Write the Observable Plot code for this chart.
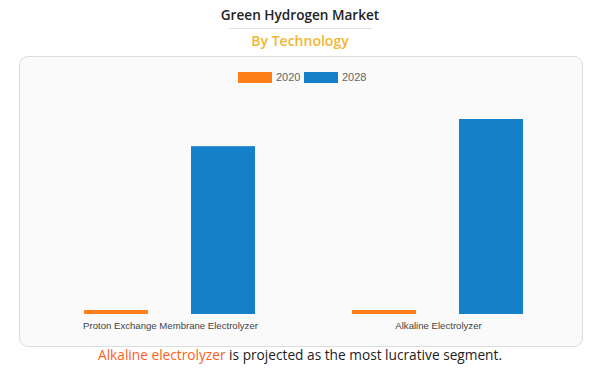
<!DOCTYPE html>
<html>
<head>
<meta charset="utf-8">
<script src="https://cdn.jsdelivr.net/npm/d3@7"></script>
<script src="https://cdn.jsdelivr.net/npm/@observablehq/plot@0.6"></script>
<style>
  html, body { margin: 0; padding: 0; background: #fff; }
  #wrap { position: relative; width: 600px; height: 374px; overflow: hidden; font-family: "Open Sans", sans-serif; }
  #title { position: absolute; top: 5px; left: 0; width: 600px; text-align: center; font-size: 13.6px; font-weight: 600; color: #222; }
  #rule { position: absolute; top: 28px; left: 229px; width: 143px; height: 1px; background: #e2e2e2; }
  #subtitle { position: absolute; top: 31px; left: 0; width: 600px; text-align: center; font-size: 14px; font-weight: 600; color: #f4b531; }
  #panel { position: absolute; top: 56px; left: 19px; width: 562px; height: 289px; border: 1px solid #dcdcdc; border-radius: 9px; background: #fafafa; }
  #legend { position: absolute; top: 70px; left: 0; width: 600px; height: 14px; font-family: Arial, "Liberation Sans", sans-serif; font-size: 11px; color: #666; }
  .sw { position: absolute; top: 2px; width: 34px; height: 11px; }
  .lt { position: absolute; top: 0px; line-height: 14px; }
  #chart { position: absolute; top: 56px; left: 0; }
  #caption { position: absolute; top: 345px; left: 0; width: 600px; text-align: center; font-size: 13.7px; font-weight: 500; color: #222; }
  #caption span { color: #fc5f23; }
</style>
</head>
<body>
<div id="wrap">
  <div id="title">Green Hydrogen Market</div>
  <div id="rule"></div>
  <div id="subtitle">By Technology</div>
  <div id="panel"></div>
  <div id="legend"></div>
  <div id="chart"></div>
  <div id="caption"><span>Alkaline electrolyzer</span> is projected as the most lucrative segment.</div>
</div>
<script>
const categories = ["Proton Exchange Membrane Electrolyzer", "Alkaline Electrolyzer"];
const years = ["2020", "2028"];
const values2020 = [0.05, 0.05];
const values2028 = [2.1, 2.44];
const colors = ["#fe7f17", "#1480ca"];

const data = [];
categories.forEach((c, i) => {
  data.push({category: c, year: years[0], value: values2020[i]});
  data.push({category: c, year: years[1], value: values2028[i]});
});

// legend
const legend = document.getElementById("legend");
const legendPos = [{sw: 238, tx: 276}, {sw: 304, tx: 342}];
years.forEach((y, i) => {
  const s = document.createElement("div");
  s.className = "sw"; s.style.left = legendPos[i].sw + "px"; s.style.background = colors[i];
  legend.appendChild(s);
  const t = document.createElement("div");
  t.className = "lt"; t.style.left = legendPos[i].tx + "px"; t.textContent = y;
  legend.appendChild(t);
});

const chart = Plot.plot({
  width: 600,
  height: 290,
  marginTop: 63,
  marginBottom: 32,
  marginLeft: 36,
  marginRight: 28,
  style: {background: "transparent", fontFamily: "Arial, 'Liberation Sans', sans-serif", fontSize: "9.6px", color: "#444"},
  fx: {domain: categories, padding: 0, label: null, tickSize: 0, tickPadding: 8},
  x: {domain: years, paddingInner: 0.4, paddingOuter: 0.45, axis: null},
  y: {domain: [0, 2.44], axis: null},
  color: {domain: years, range: colors},
  marks: [
    Plot.barY(data, {fx: "category", x: "year", y: "value", fill: "year"})
  ]
});
document.getElementById("chart").appendChild(chart);
</script>
</body>
</html>
